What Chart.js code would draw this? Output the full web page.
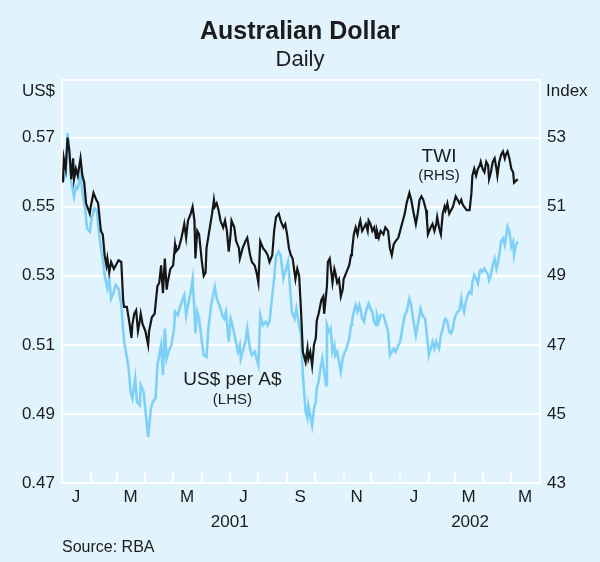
<!DOCTYPE html>
<html>
<head>
<meta charset="utf-8">
<script src="https://cdn.jsdelivr.net/npm/chart.js@4.4.1/dist/chart.umd.min.js"></script>
<style>
  html, body { margin: 0; padding: 0; background: #e1f4fd; }
  canvas { display: block; }
</style>
</head>
<body>
<canvas id="chart" width="600" height="562"></canvas>
<script>
// days counted from 1 January 2001
const twiDays = [1, 2, 4, 6, 8, 10, 12, 13, 15, 17, 20, 22, 24, 26, 30, 31, 34, 37, 39, 42, 44, 46, 48, 49, 51, 53, 56, 58, 61, 64, 66, 67, 70, 73, 75, 76, 78, 80, 82, 84, 85, 87, 90, 93, 94, 97, 100, 103, 105, 107, 109, 111, 113, 114, 117, 120, 122, 123, 126, 129, 132,
  134, 136, 139, 141, 143, 144, 146, 148, 151, 153, 155, 156, 159, 162, 164, 165, 167, 169, 171, 174, 176, 178, 180, 182, 183, 186, 188, 191, 192, 195, 198, 200, 203, 205, 208, 210, 212, 214, 217, 220, 222, 224, 227, 229, 231, 234, 236, 239, 241, 243, 245, 247, 249, 252, 254, 256, 258, 260, 263,
  265, 266, 268, 270, 272, 274, 275, 277, 280, 282, 283, 286, 287, 289, 292, 294, 295, 297, 299, 301, 303, 304, 307, 310, 312, 313, 315, 317, 319, 321, 322, 324, 326, 328, 330, 331, 333, 335, 337, 339, 340, 342, 344, 347, 349, 352, 354, 356, 358, 360, 363, 365, 368, 370, 372, 375, 377, 379, 382, 384, 386, 388, 390, 393,
  394, 395, 398, 400, 402, 404, 405, 407, 409, 411, 413, 414, 416, 418, 420, 422, 423, 425, 427, 429, 431, 432, 434, 437, 440, 442, 443, 445, 447, 449, 451, 452, 454, 456, 458, 460, 461, 463, 465, 467, 469, 470, 472, 474, 476, 478, 479, 481, 483, 485, 487, 488, 490, 492];
const twiValues = [51.7, 52.4, 52.1, 53.0, 52.6, 51.8, 52.4, 51.8, 52.1, 51.9, 52.4, 51.9, 51.7, 51.1, 50.8, 51.0, 51.4, 51.2, 51.1, 50.3, 50.2, 49.6, 49.3, 49.5, 49.1, 49.4, 49.2, 49.3, 49.45, 49.4, 48.3, 48.1, 48.1, 47.6, 47.2, 47.6, 47.9, 48.0, 47.4, 47.7, 47.9, 47.6, 47.4, 47.0, 47.4, 47.8, 47.9, 48.7, 48.8, 49.3, 48.5, 49.5, 48.6, 48.8, 49.2, 49.3, 49.9, 49.7, 49.8, 50.1, 50.5,
  50.1, 50.6, 50.8, 51.0, 50.6, 49.5, 50.3, 50.2, 49.4, 49.0, 49.1, 49.8, 50.3, 50.8, 51.2, 51.0, 51.1, 50.9, 50.6, 50.4, 50.6, 50.3, 49.7, 50.2, 50.6, 50.4, 50.0, 49.8, 49.5, 49.8, 50.0, 50.1, 49.6, 49.4, 49.3, 49.1, 48.8, 50.0, 49.8, 49.7, 49.6, 49.4, 49.6, 50.3, 50.7, 50.8, 50.6, 50.4, 50.5, 50.2, 49.8, 49.6, 49.5, 48.9, 49.2, 49.0, 48.0, 46.8, 46.5,
  46.9, 46.6, 46.8, 46.4, 47.0, 47.2, 47.7, 47.9, 48.3, 48.4, 47.9, 48.7, 49.4, 49.5, 48.8, 49.2, 49.1, 48.8, 48.9, 48.4, 48.6, 48.9, 49.1, 49.3, 49.6, 49.7, 50.2, 50.4, 50.2, 50.5, 50.6, 50.3, 50.4, 50.5, 50.3, 50.6, 50.5, 50.3, 50.4, 50.1, 50.3, 50.1, 50.3, 50.2, 50.4, 50.3, 49.8, 49.6, 49.9, 50.0, 50.1, 50.3, 50.6, 50.8, 51.1, 51.4, 51.2, 50.9, 50.5, 50.8, 51.2, 51.3, 51.2, 50.9,
  50.6, 50.2, 50.4, 50.5, 50.3, 50.5, 50.7, 50.4, 50.2, 50.8, 51.0, 50.9, 51.1, 50.8, 50.9, 51.0, 51.1, 51.3, 51.2, 51.1, 51.2, 51.1, 51.0, 50.9, 50.9, 51.4, 51.9, 52.1, 51.9, 52.1, 52.2, 52.3, 52.1, 52.0, 52.3, 52.2, 51.8, 52.0, 52.3, 52.4, 52.1, 51.9, 52.3, 52.5, 52.6, 52.4, 52.5, 52.6, 52.4, 52.1, 52.0, 51.7, 51.75, 51.8];

const usdDays = [1, 4, 6, 8, 10, 13, 15, 17, 20, 22, 25, 27, 30, 32, 35, 38, 39, 42, 44, 46, 49, 51, 53, 56, 58, 61, 64, 67, 69, 72, 74, 76, 79, 81, 84, 85, 88, 91, 93, 96, 98, 101, 103, 105, 107, 109, 111, 113, 115, 118, 121, 122, 125, 128, 132,
  134, 136, 139, 141, 143, 144, 146, 148, 151, 153, 156, 158, 161, 163, 165, 167, 170, 173, 175, 177, 180, 182, 184, 187, 190, 192, 193, 195, 198, 200, 203, 205, 208, 210, 212, 214, 217, 220, 222, 224, 227, 229, 231, 234, 236, 239, 241, 244, 246, 248, 251, 253, 256, 258, 260, 263,
  265, 266, 268, 270, 272, 274, 275, 277, 279, 281, 283, 285, 286, 288, 290, 292, 294, 295, 297, 299, 301, 303, 304, 307, 310, 312, 313, 315, 317, 319, 321, 322, 324, 326, 328, 331, 333, 335, 337, 339, 340, 342, 344, 347, 349, 352, 354, 356, 358, 360, 363, 365, 368, 370, 372, 375, 377, 379, 382, 384, 387, 389, 392,
  395, 396, 398, 400, 402, 404, 405, 407, 409, 411, 413, 414, 416, 418, 420, 422, 423, 425, 427, 429, 431, 432, 434, 436, 438, 440, 442, 443, 445, 447, 449, 451, 452, 454, 456, 458, 460, 461, 463, 465, 467, 469, 470, 472, 474, 476, 478, 479, 481, 483, 485, 487, 488, 490, 492];
const usdValues = [0.5572, 0.5592, 0.5713, 0.566, 0.5572, 0.5529, 0.5558, 0.5553, 0.5592, 0.5543, 0.5495, 0.5437, 0.5428, 0.5466, 0.5495, 0.5486, 0.5447, 0.5379, 0.535, 0.5302, 0.5263, 0.5292, 0.5234, 0.5254, 0.5273, 0.5263, 0.5215, 0.5109, 0.508, 0.5032, 0.4964, 0.4945, 0.5003, 0.4935, 0.4925, 0.4983, 0.4964, 0.4887, 0.4833, 0.4916, 0.4935, 0.4945, 0.5041, 0.507, 0.5099, 0.5012, 0.5147, 0.506, 0.508, 0.5099, 0.5147, 0.5196, 0.5186, 0.5215, 0.5244,
  0.5186, 0.5215, 0.5254, 0.529, 0.5196, 0.5133, 0.5196, 0.5176, 0.5109, 0.507, 0.5065, 0.5147, 0.5215, 0.5244, 0.5268, 0.5234, 0.5215, 0.5186, 0.5176, 0.5196, 0.5109, 0.5176, 0.5157, 0.5118, 0.508, 0.5099, 0.506, 0.508, 0.5109, 0.5147, 0.5089, 0.507, 0.508, 0.506, 0.5041, 0.5186, 0.5157, 0.5167, 0.5157, 0.5167, 0.5244, 0.5292, 0.5355, 0.537, 0.536, 0.5292, 0.5312, 0.5341, 0.5273, 0.5196, 0.5176, 0.5205, 0.5157, 0.5128, 0.5012, 0.4906,
  0.4887, 0.4925, 0.4896, 0.4867, 0.4916, 0.4935, 0.4974, 0.4993, 0.5032, 0.506, 0.5022, 0.4983, 0.5157, 0.5138, 0.5147, 0.508, 0.5099, 0.507, 0.508, 0.5051, 0.5022, 0.506, 0.507, 0.5089, 0.5118, 0.5157, 0.5167, 0.5196, 0.5215, 0.5196, 0.5215, 0.5205, 0.5176, 0.5167, 0.5196, 0.522, 0.5205, 0.5196, 0.5167, 0.5157, 0.5186, 0.5167, 0.5186, 0.5186, 0.5167, 0.5138, 0.507, 0.508, 0.5089, 0.508, 0.5099, 0.5109, 0.5157, 0.5186, 0.5196, 0.5234, 0.5215, 0.5176, 0.5128, 0.5157, 0.5205, 0.5186, 0.5176,
  0.5099, 0.507, 0.5089, 0.5109, 0.5089, 0.5109, 0.5099, 0.5089, 0.5128, 0.5147, 0.5172, 0.5176, 0.5167, 0.5138, 0.5133, 0.5147, 0.5167, 0.5186, 0.5196, 0.52, 0.5234, 0.5215, 0.5196, 0.5225, 0.5244, 0.5254, 0.5249, 0.5283, 0.5302, 0.5292, 0.5278, 0.5312, 0.5317, 0.5312, 0.5321, 0.5312, 0.5302, 0.5287, 0.5302, 0.5331, 0.535, 0.5321, 0.5331, 0.536, 0.5399, 0.5408, 0.5389, 0.5408, 0.5442, 0.5428, 0.5384, 0.5399, 0.536, 0.5389, 0.5399];

const monthLetters = ['J', 'M', 'M', 'J', 'S', 'N', 'J', 'M', 'M'];
const monthLabelDays = [15, 74, 135, 196, 257, 318, 380, 439, 500];
const monthStartDays = [31, 59, 90, 120, 151, 181, 212, 243, 273, 304, 334, 365, 396, 424, 455, 485];
const yearLabels = ['2001', '2002'];
const yearLabelDays = [181, 440.5];
const usdTicks = [0.47, 0.49, 0.51, 0.53, 0.55, 0.57];
const twiTicks = [43, 45, 47, 49, 51, 53];

const FONT = '"Liberation Sans", Arial, Helvetica, sans-serif';
const TEXT = '#1c1c1c';
const BLUE = '#7fd0f6';

const frameAndText = {
    id: 'frameAndText',
    beforeDatasetsDraw(chart) {
        const { ctx, chartArea: a, scales } = chart;
        ctx.save();
        ctx.strokeStyle = '#ffffff';
        ctx.lineWidth = 2;
        ctx.strokeRect(a.left, a.top, a.right - a.left, a.bottom - a.top);
        // month tick marks along the bottom, pointing up
        ctx.beginPath();
        monthStartDays.forEach(d => {
            const x = Math.round(scales.x.getPixelForValue(d));
            ctx.moveTo(x, a.bottom);
            ctx.lineTo(x, a.bottom - 10);
        });
        ctx.stroke();
        ctx.restore();
    },
    afterDraw(chart) {
        const { ctx, chartArea: a, scales } = chart;
        ctx.save();
        ctx.fillStyle = TEXT;
        ctx.textBaseline = 'middle';
        ctx.font = '17px ' + FONT;
        ctx.textAlign = 'right';
        ctx.fillText('US$', a.left - 7, 91);
        ctx.textAlign = 'left';
        ctx.fillText('Index', a.right + 6, 91);

        ctx.font = '16px ' + FONT;
        ctx.fillText('Source: RBA', a.left, 548);

        ctx.textAlign = 'center';
        const tx = scales.x.getPixelForValue(407);
        const ty = scales.y2.getPixelForValue(52.45);
        ctx.font = '19px ' + FONT;
        ctx.fillText('TWI', tx, ty);
        ctx.font = '15px ' + FONT;
        ctx.fillText('(RHS)', tx, ty + 19);

        const ux = scales.x.getPixelForValue(184);
        const uy = scales.y.getPixelForValue(0.4998);
        ctx.font = '19px ' + FONT;
        ctx.fillText('US$ per A$', ux, uy);
        ctx.font = '15px ' + FONT;
        ctx.fillText('(LHS)', ux, uy + 20);
        ctx.restore();
    }
};

const toPoints = (xs, ys) => xs.map((d, i) => ({ x: d, y: ys[i] }));

new Chart(document.getElementById('chart'), {
    type: 'line',
    data: {
        datasets: [
            {
                label: 'TWI',
                data: toPoints(twiDays, twiValues),
                yAxisID: 'y2',
                borderColor: '#161616',
                borderWidth: 2.2,
                pointRadius: 0,
                order: 0
            },
            {
                label: 'US$ per A$',
                data: toPoints(usdDays, usdValues),
                yAxisID: 'y',
                borderColor: BLUE,
                borderWidth: 2.6,
                pointRadius: 0,
                order: 1
            }
        ]
    },
    options: {
        responsive: false,
        animation: false,
        events: [],
        layout: { padding: { bottom: 27 } },
        plugins: {
            legend: { display: false },
            tooltip: { enabled: false },
            title: {
                display: true,
                text: 'Australian Dollar',
                color: TEXT,
                font: { family: FONT, size: 25, weight: 'bold', lineHeight: 1.2 },
                padding: { top: 17, bottom: 0 }
            },
            subtitle: {
                display: true,
                text: 'Daily',
                color: TEXT,
                font: { family: FONT, size: 22, lineHeight: 1.2 },
                padding: { top: 0, bottom: 6.6 }
            }
        },
        scales: {
            x: {
                type: 'linear',
                position: 'bottom',
                min: 0,
                max: 516,
                weight: 0,
                afterBuildTicks: s => { s.ticks = monthLabelDays.map(v => ({ value: v })); },
                afterFit: s => { s.height = 27; },
                ticks: {
                    autoSkip: false,
                    maxRotation: 0,
                    padding: 4,
                    color: TEXT,
                    font: { family: FONT, size: 17 },
                    callback: (v, i) => monthLetters[i]
                },
                grid: { display: false, drawTicks: false },
                border: { display: false }
            },
            years: {
                type: 'linear',
                position: 'bottom',
                min: 0,
                max: 516,
                weight: 1,
                afterBuildTicks: s => { s.ticks = yearLabelDays.map(v => ({ value: v })); },
                afterFit: s => { s.height = 25; },
                ticks: {
                    autoSkip: false,
                    maxRotation: 0,
                    padding: 2,
                    color: TEXT,
                    font: { family: FONT, size: 17 },
                    callback: (v, i) => yearLabels[i]
                },
                grid: { display: false, drawTicks: false },
                border: { display: false }
            },
            y: {
                position: 'left',
                min: 0.47,
                max: 0.5867,
                afterBuildTicks: s => { s.ticks = usdTicks.map(v => ({ value: v })); },
                afterFit: s => { s.width = 62; },
                ticks: {
                    padding: 7,
                    color: TEXT,
                    font: { family: FONT, size: 17 },
                    callback: v => v.toFixed(2)
                },
                grid: { color: '#ffffff', lineWidth: 2, drawTicks: false },
                border: { display: false }
            },
            y2: {
                position: 'right',
                min: 43,
                max: 54.67,
                afterBuildTicks: s => { s.ticks = twiTicks.map(v => ({ value: v })); },
                afterFit: s => { s.width = 60; },
                ticks: {
                    padding: 7,
                    color: TEXT,
                    font: { family: FONT, size: 17 },
                    callback: v => String(v)
                },
                grid: { display: false, drawTicks: false },
                border: { display: false }
            }
        }
    },
    plugins: [frameAndText]
});
</script>
</body>
</html>
